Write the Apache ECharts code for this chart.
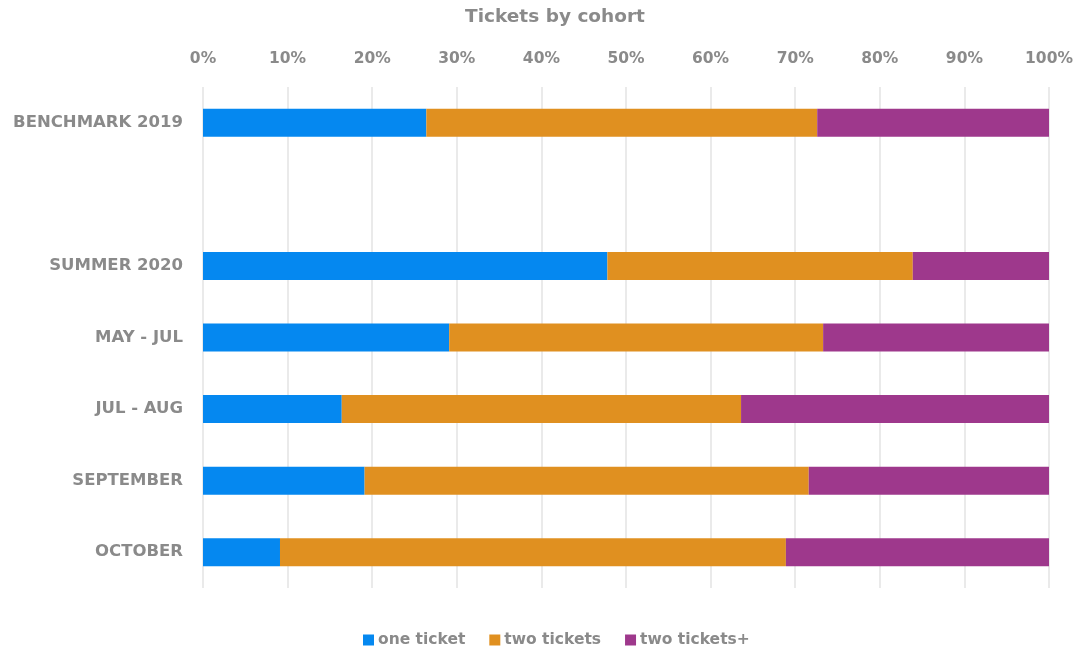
<!DOCTYPE html>
<html>
<head>
<meta charset="utf-8">
<script src="https://cdn.jsdelivr.net/npm/echarts@6/dist/echarts.min.js"></script>
<style>
  html, body { margin: 0; padding: 0; background: #fff; }
  #chart { width: 1084px; height: 648px; }
</style>
</head>
<body>
<div id="chart"></div>
<script>
const categories = ['BENCHMARK 2019', '', 'SUMMER 2020', 'MAY - JUL', 'JUL - AUG', 'SEPTEMBER', 'OCTOBER']
const oneTicket = [26.4, null, 47.8, 29.1, 16.4, 19.1, 9.1]
const twoTickets = [46.2, null, 36.1, 44.2, 47.2, 52.5, 59.8]
const twoTicketsPlus = [27.4, null, 16.1, 26.7, 36.4, 28.4, 31.1]

const textColor = '#8a8a8a'
const font = '"DejaVu Sans", sans-serif'

const mk = (name, data, color) => ({
  name,
  type: 'bar',
  stack: 'total',
  data,
  barWidth: 28,
  itemStyle: { color },
  emphasis: { disabled: true }
})

const chart = echarts.init(document.getElementById('chart'))
chart.setOption({
  animation: false,
  textStyle: { fontFamily: font },
  title: {
    text: 'Tickets by cohort',
    left: 550,
    textAlign: 'center',
    top: 3,
    textStyle: { color: textColor, fontSize: 18.5, fontWeight: 'bold', fontFamily: font }
  },
  legend: {
    top: 627,
    left: 358,
    itemWidth: 11,
    itemHeight: 11,
    itemGap: 24,
    icon: 'rect',
    textStyle: { color: textColor, fontSize: 15.5, fontWeight: 'bold', fontFamily: font, padding: [0, 0, 0, -1] }
  },
  grid: { left: 203, right: 35, top: 87, bottom: 60 },
  xAxis: {
    type: 'value',
    position: 'top',
    min: 0,
    max: 100,
    interval: 10,
    axisLine: { show: false },
    axisTick: { show: false },
    splitLine: { lineStyle: { color: '#e3e3e3', width: 1.5 } },
    axisLabel: {
      formatter: '{value}%',
      color: textColor,
      fontSize: 15.5,
      fontWeight: 'bold',
      margin: 20
    }
  },
  yAxis: {
    type: 'category',
    data: categories,
    inverse: true,
    axisLine: { show: false },
    axisTick: { show: false },
    axisLabel: { color: textColor, fontSize: 16.5, fontWeight: 'bold', margin: 20 }
  },
  series: [
    mk('one ticket', oneTicket, '#0588f0'),
    mk('two tickets', twoTickets, '#e09020'),
    mk('two tickets+', twoTicketsPlus, '#9e388c')
  ]
})
</script>
</body>
</html>
